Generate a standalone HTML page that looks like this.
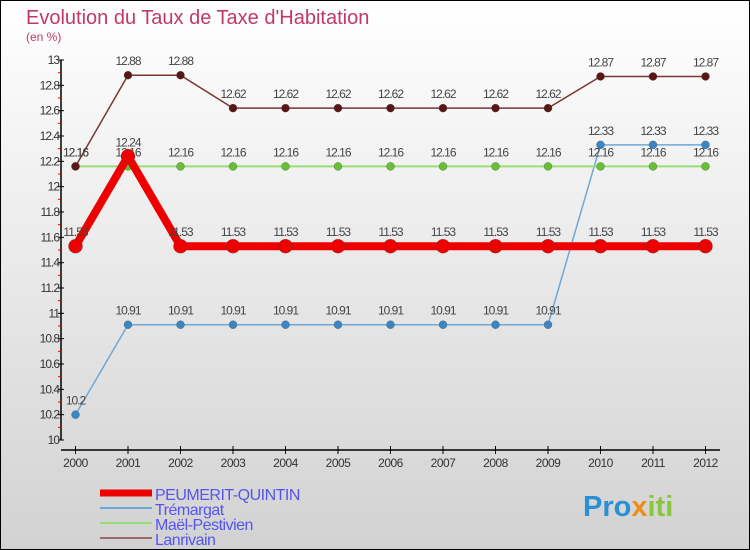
<!DOCTYPE html>
<html><head><meta charset="utf-8"><style>
body{margin:0}
#c{width:750px;height:550px;position:relative;overflow:hidden;font-family:"Liberation Sans","DejaVu Sans",sans-serif;}
</style></head><body>
<div id="c">
<svg id="s" width="750" height="550" xmlns="http://www.w3.org/2000/svg">
<defs><linearGradient id="bg" x1="0" y1="0" x2="0" y2="1"><stop offset="0" stop-color="#ffffff"/><stop offset="1" stop-color="#d2d2d2"/></linearGradient></defs>
<rect x="0.5" y="0.5" width="749" height="549" fill="url(#bg)" stroke="#000"/>
<text x="26" y="24" font-size="20" fill="#c0396a">Evolution du Taux de Taxe d'Habitation</text>
<text x="26" y="41" font-size="12" fill="#c0396a">(en %)</text>
<g id="axes"></g><g id="series"></g><g id="legend"></g>
<text x="583" y="516" font-size="29" font-weight="bold" fill="#2a8fd6">Pro<tspan fill="#f08a1a">x</tspan><tspan fill="#8ac63a">iti</tspan></text>
</svg></div>
<script>
const years=[2000,2001,2002,2003,2004,2005,2006,2007,2008,2009,2010,2011,2012];
const yTicks=[10,10.2,10.4,10.6,10.8,11,11.2,11.4,11.6,11.8,12,12.2,12.4,12.6,12.8,13];
const yTickLabels=["10","10.2","10.4","10.6","10.8","11","11.2","11.4","11.6","11.8","12","12.2","12.4","12.6","12.8","13"];
const names=["PEUMERIT-QUINTIN","Trémargat","Maël-Pestivien","Lanrivain"];
const peumerit=[11.53,12.24,11.53,11.53,11.53,11.53,11.53,11.53,11.53,11.53,11.53,11.53,11.53];
const tremargat=[10.2,10.91,10.91,10.91,10.91,10.91,10.91,10.91,10.91,10.91,12.33,12.33,12.33];
const mael=[12.16,12.16,12.16,12.16,12.16,12.16,12.16,12.16,12.16,12.16,12.16,12.16,12.16];
const lanrivain=[12.16,12.88,12.88,12.62,12.62,12.62,12.62,12.62,12.62,12.62,12.87,12.87,12.87];
const NS="http://www.w3.org/2000/svg";
const xs=i=>75.5+i*52.5;
const ys=v=>60+(13-v)/3*380;
function mk(t,a,p){const e=document.createElementNS(NS,t);for(const k in a)e.setAttribute(k,a[k]);p.appendChild(e);return e;}
const ax=document.getElementById('axes');
let yl=mk('line',{x1:61,y1:60,x2:61,y2:440,stroke:'#000','stroke-width':1.5},ax);


let xl=mk('line',{x1:61,y1:450,x2:720,y2:450,stroke:'#000','stroke-width':1.5},ax);


yTicks.forEach((v,i)=>{const y=ys(v);
 mk('line',{x1:58,y1:y,x2:64,y2:y,stroke:'#000'},ax);
 if(i<yTicks.length-1) mk('line',{x1:58,y1:ys(v+0.1),x2:61,y2:ys(v+0.1),stroke:'#e00'},ax);
 const t=mk('text',{x:59,y:y+4,'font-size':12,'text-anchor':'end',fill:'#333','letter-spacing':'-1'},ax);t.textContent=yTickLabels[i];
 
 });
years.forEach((yr,i)=>{const x=xs(i);
 mk('line',{x1:x,y1:446,x2:x,y2:454,stroke:'#000'},ax);
 const t=mk('text',{x:x,y:467,'font-size':12,'text-anchor':'middle',fill:'#333','letter-spacing':'-0.5'},ax);t.textContent=yr;
 
 });
const sg=document.getElementById('series');
const defs=[[tremargat,'#6fa8d6','#3a86c4',1.5,4,'tremargat'],[mael,'#99dd77','#66c033',2,4,'mael-pestivien'],[lanrivain,'#7a3535','#5a1515',1.5,4,'lanrivain'],[peumerit,'#ee0000','#ee0000',8,7,'peumerit-quintin']];
defs.forEach(([d,lc,pc,w,r,n])=>{
 const g=mk('g',{},sg);
 
 
 mk('polyline',{points:d.map((v,i)=>xs(i)+','+ys(v)).join(' '),fill:'none',stroke:lc,'stroke-width':w,'stroke-linejoin':'miter'},g);
 d.forEach((v,i)=>{const c=mk('circle',{cx:xs(i),cy:ys(v),r:r,fill:pc,stroke:'#444','stroke-width':0.3},g);
  
  
  const t=mk('text',{x:xs(i),y:ys(v)-10,'font-size':12,'text-anchor':'middle',fill:'#444','letter-spacing':'-1'},g);t.textContent=v;
  
  });
});
const lg=document.getElementById('legend');
const lcols=['#ee0000','#6fa8d6','#99dd77','#a06868'];const lw=[7,2,2,2];
names.forEach((n,i)=>{const y=493+i*15;
 const e=mk('g',{},lg);
 
 
 mk('line',{x1:100,y1:y,x2:152,y2:y,stroke:lcols[i],'stroke-width':lw[i]},e);
 const t=mk('text',{x:155,y:y+7,'font-size':16,fill:'#5555ee','letter-spacing':'-0.5'},e);t.textContent=n;});
</script>
</body></html>
